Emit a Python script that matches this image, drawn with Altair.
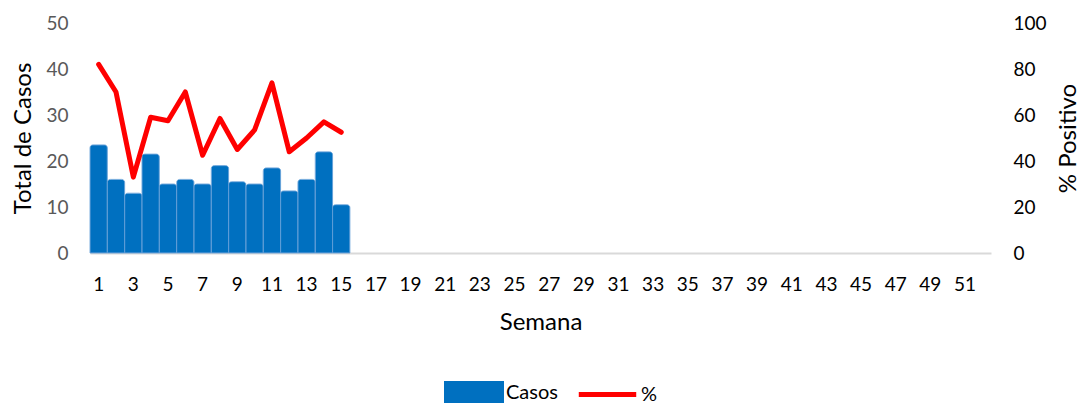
import altair as alt
import pandas as pd

semanas = list(range(1, 16))
casos = [23.5, 16, 13, 21.5, 15, 16, 15, 19, 15.5, 15, 18.5, 13.5, 16, 22, 10.5]
positivo = [82, 70, 33, 59, 57.5, 70, 42.5, 58.5, 45, 53.5, 74, 44, 50, 57, 52.5]
dominio_semanas = list(range(1, 53))
etiquetas_x = list(range(1, 53, 2))
color_casos = "#0070c0"
color_pos = "#ff0000"

df = pd.DataFrame({"Semana": semanas, "Casos": casos, "Positivo": positivo})

FONT = "Lato"
LBL = 19
TTL = 24

x_enc = alt.X(
    "Semana:O",
    scale=alt.Scale(domain=dominio_semanas, paddingInner=0, paddingOuter=0),
    axis=alt.Axis(
        title="Semana", values=etiquetas_x, labelAngle=0, ticks=False,
        domainColor="#d9d9d9", domainWidth=2, labelColor="#000000",
        labelFontSize=LBL, labelPadding=22, titleFontSize=TTL, titleFontWeight="normal",
        titleColor="#000000", titlePadding=16, labelFont=FONT, titleFont=FONT,
    ),
)

bars = alt.Chart(df).transform_calculate(serie="'Casos'").mark_bar(
    stroke="#5b9bd5", strokeWidth=0.8, cornerRadiusTopLeft=3, cornerRadiusTopRight=3
).encode(
    x=x_enc,
    y=alt.Y(
        "Casos:Q",
        scale=alt.Scale(domain=[0, 50]),
        axis=alt.Axis(
            title="Total de Casos", values=[0, 10, 20, 30, 40, 50], grid=False, domain=False,
            ticks=False, labelColor="#595959", labelFontSize=LBL, labelPadding=22,
            titleFontSize=TTL, titleFontWeight="normal", titleColor="#000000", titlePadding=10,
            labelFont=FONT, titleFont=FONT,
        ),
    ),
    fill=alt.Fill(
        "serie:N",
        scale=alt.Scale(domain=["Casos"], range=[color_casos]),
        legend=alt.Legend(
            title=None, orient="none", legendX=354, legendY=340,
            symbolType="M-1,-0.4H1V0.4H-1Z", symbolSize=3600, symbolStrokeWidth=0,
            labelFontSize=20, labelFont=FONT, labelColor="#000000", labelOffset=2,
        ),
    ),
)

line = alt.Chart(df).transform_calculate(serie="'%'").mark_line(
    strokeWidth=5, strokeJoin="round", strokeCap="round"
).encode(
    x=x_enc,
    y=alt.Y(
        "Positivo:Q",
        scale=alt.Scale(domain=[0, 100]),
        axis=alt.Axis(
            title="% Positivo", orient="right", values=[0, 20, 40, 60, 80, 100], grid=False,
            domain=False, ticks=False, labelColor="#000000", labelFontSize=LBL, labelPadding=22,
            titleFontSize=TTL, titleFontWeight="normal", titleColor="#000000", titlePadding=34,
            titleAngle=270, labelFont=FONT, titleFont=FONT,
        ),
    ),
    stroke=alt.Stroke(
        "serie:N",
        scale=alt.Scale(domain=["%"], range=[color_pos]),
        legend=alt.Legend(
            title=None, orient="none", legendX=486, legendY=340,
            symbolType="stroke", symbolSize=3300, symbolStrokeWidth=5,
            labelFontSize=20, labelFont=FONT, labelColor="#000000", labelOffset=2,
        ),
    ),
)

chart = alt.layer(bars, line).resolve_scale(y="independent").properties(
    width=901, height=230,
    autosize=alt.AutoSizeParams(type="none"),
    padding={"left": 82, "top": 15, "right": 89, "bottom": 150},
).configure_view(stroke=None)

chart.save("out.html", embed_options={"renderer": "svg", "actions": False})
